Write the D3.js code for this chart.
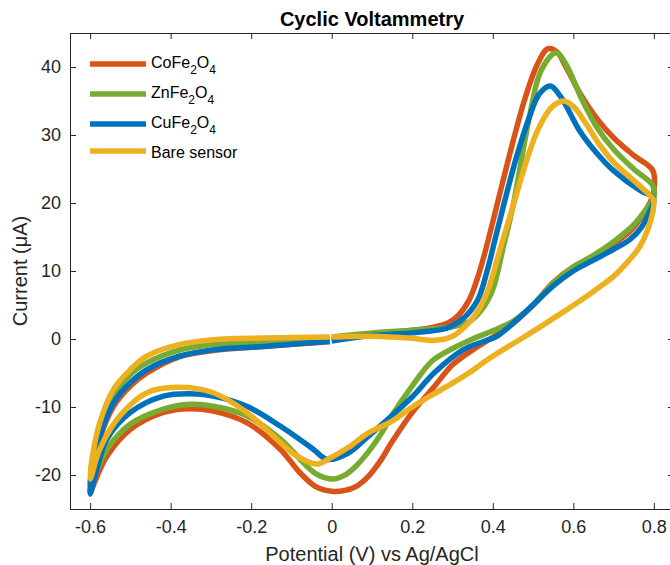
<!DOCTYPE html>
<html>
<meta charset="utf-8">
<script src="https://d3js.org/d3.v7.min.js"></script>
<style>
  body { margin: 0; background: #fff; }
  svg { display: block; font-family: "Liberation Sans", Arial, sans-serif; }
</style>
<body>
<div id="chart"></div>
<script>
// data: [potential (V), current (uA)] in scan order
var coFe2O4 = [[0,-0.1],[0.1,0.6],[0.2,1.3],[0.25,1.7],[0.29,2.4],[0.315,3.5],[0.34,5.6],[0.36,8.6],[0.38,12.6],[0.41,19.6],[0.443,27.4],[0.478,35.0],[0.51,40.3],[0.537,42.7],[0.56,42.2],[0.58,40.2],[0.62,35.8],[0.66,32.3],[0.7,29.6],[0.75,27.0],[0.797,24.8],
  [0.8,21.8],[0.79,20.0],[0.77,18.0],[0.74,15.8],[0.7,14.0],[0.65,12.2],[0.6,10.6],[0.55,8.3],[0.5,5.0],[0.45,2.3],[0.393,0.0],[0.35,-1.6],[0.3,-3.8],[0.256,-6.9],[0.2,-10.8],[0.149,-15.2],[0.12,-18.0],[0.091,-20.2],[0.06,-21.7],[0.03,-22.3],[0.0,-22.4],[-0.04,-21.7],[-0.08,-19.6],[-0.128,-16.2],[-0.211,-12.3],[-0.294,-10.6],[-0.352,-10.25],[-0.418,-10.8],[-0.5,-13.3],[-0.558,-17.2],[-0.585,-20.5],[-0.6,-22.6],
  [-0.597,-21.0],[-0.58,-15.5],[-0.542,-9.9],[-0.5,-6.9],[-0.459,-5.0],[-0.377,-2.6],[-0.294,-1.7],[-0.17,-1.1],[-0.08,-0.7],[-0.005,-0.4]];

var znFe2O4 = [[0,0.3],[0.1,0.9],[0.2,1.3],[0.25,1.5],[0.3,1.8],[0.343,2.6],[0.375,4.5],[0.4,7.3],[0.426,13.5],[0.45,19.5],[0.492,33.0],[0.52,39.5],[0.557,42.1],[0.58,40.6],[0.62,35.4],[0.66,31.0],[0.7,27.9],[0.75,25.0],[0.797,22.6],
  [0.8,20.8],[0.78,19.0],[0.75,16.8],[0.7,14.3],[0.65,12.3],[0.6,10.6],[0.55,8.2],[0.5,5.0],[0.45,2.6],[0.4,1.2],[0.35,0.0],[0.3,-1.4],[0.25,-3.2],[0.2,-6.9],[0.149,-11.3],[0.12,-14.2],[0.091,-16.6],[0.06,-18.7],[0.03,-20.1],[0.004,-20.6],[-0.04,-19.8],[-0.128,-14.7],[-0.211,-11.3],[-0.294,-9.9],[-0.352,-9.6],[-0.418,-10.3],[-0.5,-12.5],[-0.558,-16.2],[-0.6,-21.6],
  [-0.595,-19.0],[-0.575,-13.5],[-0.542,-8.5],[-0.5,-5.2],[-0.459,-3.5],[-0.377,-1.6],[-0.294,-0.8],[-0.17,-0.5],[-0.005,0.0]];

var cuFe2O4 = [[0,-0.3],[0.1,0.5],[0.2,0.9],[0.25,1.2],[0.29,1.7],[0.33,3.2],[0.363,5.8],[0.385,9.8],[0.405,14.5],[0.43,20.4],[0.46,27.0],[0.49,32.5],[0.515,36.0],[0.543,37.2],[0.57,35.5],[0.616,30.6],[0.66,27.2],[0.699,24.8],[0.765,21.9],[0.797,20.9],
  [0.8,20.3],[0.79,18.8],[0.77,16.5],[0.74,14.6],[0.7,13.2],[0.65,11.6],[0.6,10.0],[0.55,7.8],[0.505,5.3],[0.45,2.3],[0.41,0.4],[0.38,-0.3],[0.326,-1.6],[0.256,-4.9],[0.2,-8.5],[0.149,-11.3],[0.091,-14.3],[0.04,-16.8],[-0.012,-17.7],[-0.046,-16.2],[-0.128,-12.8],[-0.211,-9.9],[-0.294,-8.4],[-0.352,-8.05],[-0.418,-8.4],[-0.5,-10.8],[-0.558,-14.7],[-0.585,-19.5],[-0.6,-22.8],
  [-0.595,-19.5],[-0.576,-14.3],[-0.542,-9.4],[-0.5,-6.4],[-0.459,-4.5],[-0.377,-2.5],[-0.294,-1.6],[-0.17,-1.1],[-0.005,-0.35]];

var bareSensor = [[0,0.3],[0.1,0.4],[0.2,0.1],[0.256,-0.2],[0.3,0.4],[0.339,2.3],[0.365,4.3],[0.388,7.2],[0.422,14.0],[0.45,19.5],[0.48,25.5],[0.51,30.5],[0.545,34.0],[0.575,35.0],[0.6,34.2],[0.63,31.8],[0.66,29.0],[0.7,26.0],[0.75,23.3],[0.798,20.6],
  [0.8,20.0],[0.79,17.0],[0.765,13.6],[0.73,11.0],[0.7,9.2],[0.65,7.0],[0.616,5.6],[0.56,3.4],[0.505,1.3],[0.45,-0.7],[0.393,-2.8],[0.343,-4.9],[0.3,-6.5],[0.244,-8.4],[0.2,-10.0],[0.149,-12.1],[0.091,-13.8],[0.04,-16.0],[-0.004,-17.5],[-0.037,-18.4],[-0.087,-17.2],[-0.128,-15.2],[-0.211,-10.8],[-0.294,-7.9],[-0.385,-7.1],[-0.459,-7.9],[-0.526,-11.3],[-0.576,-16.2],[-0.6,-20.6],
  [-0.595,-17.5],[-0.576,-12.3],[-0.542,-7.4],[-0.5,-4.5],[-0.459,-2.5],[-0.377,-0.8],[-0.294,-0.1],[-0.17,0.15],[-0.005,0.3]];

var seriesNames = ["CoFe2O4", "ZnFe2O4", "CuFe2O4", "Bare sensor"];
var seriesColors = ["#D95319", "#77AC30", "#0072BD", "#EDB120"];
var seriesData = [coFe2O4, znFe2O4, cuFe2O4, bareSensor];

var xTicks = [-0.6, -0.4, -0.2, 0, 0.2, 0.4, 0.6, 0.8];
var yTicks = [-20, -10, 0, 10, 20, 30, 40];

// axes box (right edge runs past the window, as in the original figure)
var margin = {top: 33, right: -4, bottom: 56, left: 70},
    W = 670, H = 565,
    width = W - margin.left - margin.right,
    height = H - margin.top - margin.bottom;

var x = d3.scaleLinear().domain([-0.65, 0.85]).range([0, width]);
var y = d3.scaleLinear().domain([-25, 45]).range([height, 0]);

var svg = d3.select("#chart").append("svg")
    .attr("width", W)
    .attr("height", H);

var g = svg.append("g")
    .attr("transform", "translate(" + margin.left + "," + margin.top + ")");

var axisColor = "#262626";

// curves
var line = d3.line()
    .x(function(d) { return x(d[0]); })
    .y(function(d) { return y(d[1]); })
    .curve(d3.curveCatmullRom.alpha(0.5));

seriesData.forEach(function(s, i) {
  g.append("path")
    .datum(s)
    .attr("fill", "none")
    .attr("stroke", seriesColors[i])
    .attr("stroke-width", 5.5)
    .attr("stroke-linejoin", "round")
    .attr("d", line);
});

// axes with inward ticks
var fmt = function(d) { return d === 0 ? "0" : d3.format("")(d).replace("−", "-"); };

var xAxis = g.append("g")
    .attr("transform", "translate(0," + height + ")")
    .call(d3.axisBottom(x).tickValues(xTicks).tickSize(-6).tickPadding(11).tickFormat(fmt));
var xTop = g.append("g")
    .call(d3.axisTop(x).tickValues(xTicks).tickSize(-6).tickFormat(""));
var yAxis = g.append("g")
    .call(d3.axisLeft(y).tickValues(yTicks).tickSize(-6).tickPadding(9).tickFormat(fmt));
var yRight = g.append("g")
    .attr("transform", "translate(" + width + ",0)")
    .call(d3.axisRight(y).tickValues(yTicks).tickSize(-6).tickFormat(""));

[xAxis, xTop, yAxis, yRight].forEach(function(a) {
  a.select(".domain").attr("stroke", axisColor).attr("stroke-width", 1);
  a.selectAll(".tick line").attr("stroke", axisColor).attr("stroke-width", 1);
  a.selectAll(".tick text")
    .attr("fill", axisColor)
    .style("font-size", "18px")
    .style("font-family", "Liberation Sans, Arial, sans-serif");
});

// title and labels
svg.append("text")
    .attr("x", margin.left + width / 2)
    .attr("y", 26)
    .attr("text-anchor", "middle")
    .style("font-size", "20px")
    .style("font-weight", "bold")
    .attr("fill", "#000")
    .text("Cyclic Voltammetry");

svg.append("text")
    .attr("x", margin.left + width / 2)
    .attr("y", 561)
    .attr("text-anchor", "middle")
    .style("font-size", "20px")
    .attr("fill", axisColor)
    .text("Potential (V) vs Ag/AgCl");

svg.append("text")
    .attr("transform", "translate(27," + (margin.top + height / 2) + ") rotate(-90)")
    .attr("text-anchor", "middle")
    .style("font-size", "20px")
    .attr("fill", axisColor)
    .text("Current (\u03bcA)");

// legend (no box)
var legendY = [64, 94, 124, 151];
seriesNames.forEach(function(name, i) {
  svg.append("line")
    .attr("x1", 90).attr("x2", 146)
    .attr("y1", legendY[i]).attr("y2", legendY[i])
    .attr("stroke", seriesColors[i])
    .attr("stroke-width", 5.5);
  var t = svg.append("text")
    .attr("x", 151)
    .attr("y", legendY[i] + (name.indexOf("Fe2O4") > 0 ? 4 : 6.5))
    .style("font-size", "16px")
    .attr("fill", "#000");
  var m = name.match(/^(\w+?Fe)2O4$/);
  if (m) {
    t.append("tspan").text(m[1]);
    t.append("tspan").attr("dy", 6).style("font-size", "12px").text("2");
    t.append("tspan").attr("dy", -6).text("O");
    t.append("tspan").attr("dy", 6).style("font-size", "12px").text("4");
  } else {
    t.text(name);
  }
});
</script>
</body>
</html>
